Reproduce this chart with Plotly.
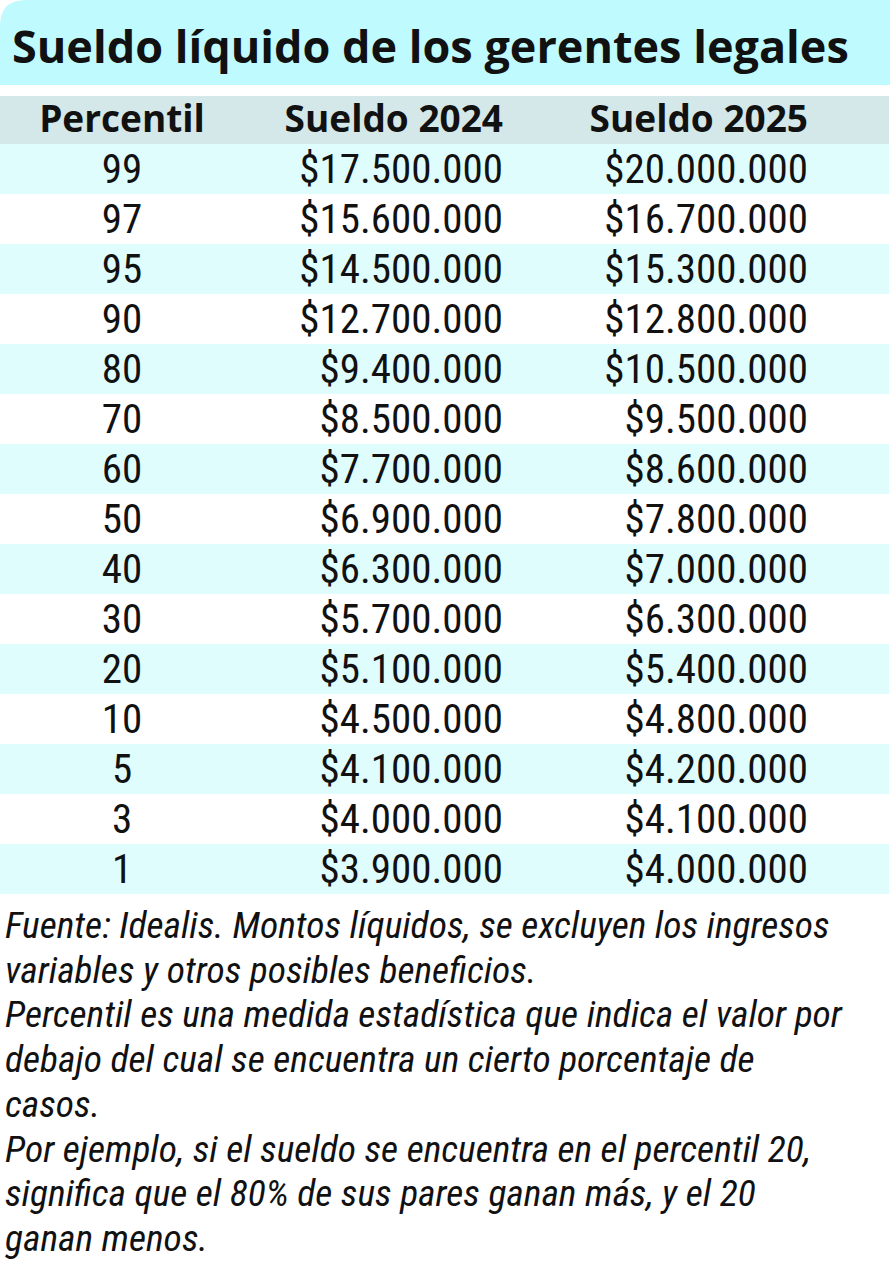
import plotly.graph_objects as go

W, H = 891, 1273

titulo = "Sueldo líquido de los gerentes legales"
encabezados = ["Percentil", "Sueldo 2024", "Sueldo 2025"]
percentiles = [99, 97, 95, 90, 80, 70, 60, 50, 40, 30, 20, 10, 5, 3, 1]
sueldo_2024 = [17500000, 15600000, 14500000, 12700000, 9400000, 8500000, 7700000,
               6900000, 6300000, 5700000, 5100000, 4500000, 4100000, 4000000, 3900000]
sueldo_2025 = [20000000, 16700000, 15300000, 12800000, 10500000, 9500000, 8600000,
               7800000, 7000000, 6300000, 5400000, 4800000, 4200000, 4100000, 4000000]
notas = [
    "Fuente: Idealis. Montos líquidos, se excluyen los ingresos",
    "variables y otros posibles beneficios.",
    "Percentil es una medida estadística que indica el valor por",
    "debajo del cual se encuentra un cierto porcentaje de",
    "casos.",
    "Por ejemplo, si el sueldo se encuentra en el percentil 20,",
    "significa que el 80% de sus pares ganan más, y el 20",
    "ganan menos.",
]

CYAN_TITULO = "#bffbfe"
GRIS = "#d4e8e9"
CYAN_FILA = "#e0fdfe"
BLANCO = "#ffffff"


def pesos(v):
    # formato chileno: punto como separador de miles
    return "$" + f"{v:,}".replace(",", ".")


def px(x):
    return x / W


def py(y):
    return 1 - y / H


cuerpo = "Roboto Condensed, Liberation Sans Narrow, sans-serif"
negrita = "Open Sans, Liberation Sans, sans-serif"

colores = [CYAN_FILA if i % 2 == 0 else BLANCO for i in range(len(percentiles))]

fig = go.Figure()

fig.add_trace(go.Table(
    domain=dict(x=[0, px(889)], y=[py(896), py(96)]),
    columnwidth=[244, 267, 305, 73],
    header=dict(
        values=encabezados + [""],
        fill_color=GRIS,
        line=dict(color=GRIS, width=0),
        align=["center", "right", "right", "right"],
        font=dict(family=negrita, size=37, color="#111111", weight="bold"),
        height=48,
    ),
    cells=dict(
        values=[[str(p) for p in percentiles],
                [pesos(v) for v in sueldo_2024],
                [pesos(v) for v in sueldo_2025],
                [""] * len(percentiles)],
        fill_color=[colores] * 4,
        line=dict(color=[colores] * 4, width=0),
        align=["center", "right", "right", "right"],
        font=dict(family=cuerpo, size=41, color="#111111"),
        height=50,
    ),
))

# franja del título con la esquina superior izquierda redondeada
r = 26
fig.add_shape(
    type="path", xref="paper", yref="paper", layer="below",
    path=(f"M {px(0)},{py(85)} L {px(0)},{py(r)} Q {px(0)},{py(0)} {px(r)},{py(0)} "
          f"L {px(890)},{py(0)} L {px(890)},{py(85)} Z"),
    fillcolor=CYAN_TITULO, line=dict(width=0),
)

fig.add_annotation(
    text=titulo, xref="paper", yref="paper",
    x=px(10), y=py(46), xanchor="left", yanchor="middle", showarrow=False,
    font=dict(family=negrita, size=45, color="#111111", weight="bold"),
)

for i, linea in enumerate(notas):
    fig.add_annotation(
        text=linea, xref="paper", yref="paper",
        x=px(3), y=py(925 + i * 44.7), xanchor="left", yanchor="middle", showarrow=False,
        font=dict(family=cuerpo, size=37.5, color="#111111", style="italic"),
    )

fig.update_layout(
    width=W, height=H,
    margin=dict(l=0, r=0, t=0, b=0),
    paper_bgcolor="white", plot_bgcolor="white",
    xaxis=dict(visible=False), yaxis=dict(visible=False),
)

fig.write_html("out.html", config={"displayModeBar": False},
               post_script="document.body.style.margin='0px';")
